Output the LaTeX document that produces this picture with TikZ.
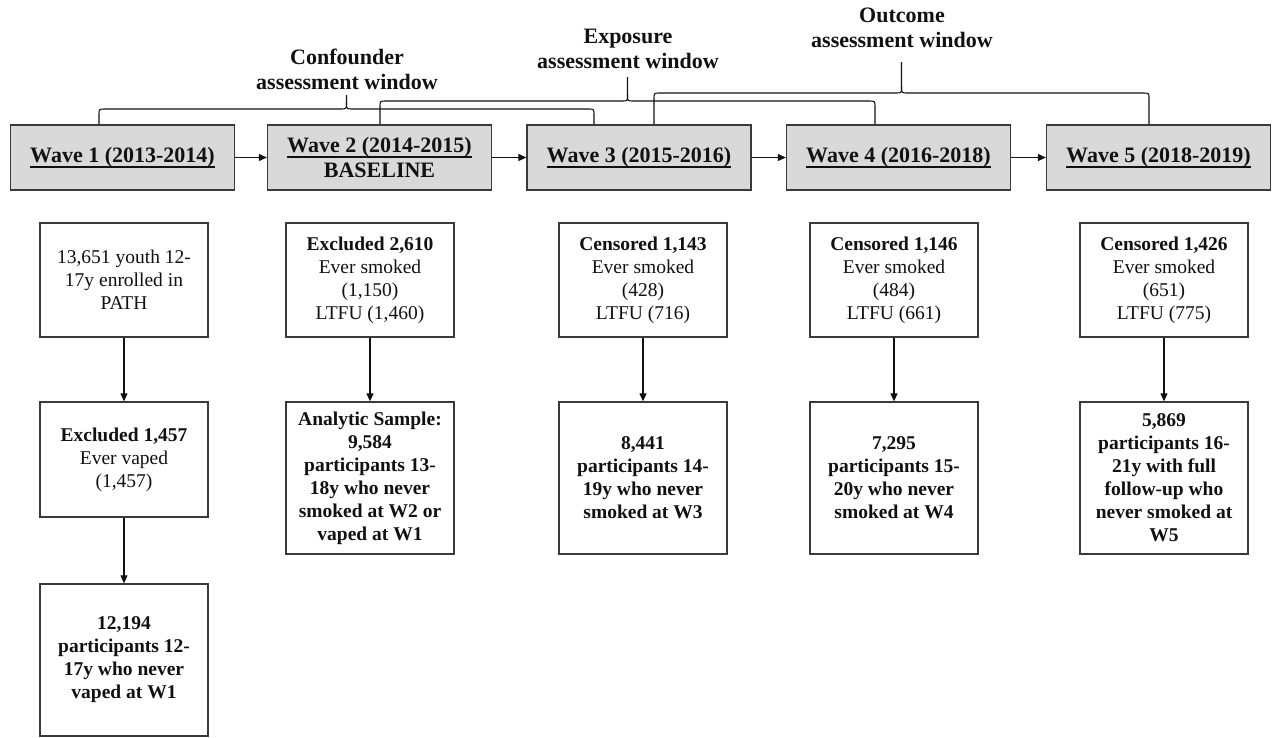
\documentclass[tikz,border=0pt]{standalone}
\usepackage{fontspec}
\setmainfont{Liberation Serif}
\usetikzlibrary{arrows.meta,calc}
\definecolor{ink}{HTML}{111111}
\definecolor{edge}{HTML}{3A3A3A}
\definecolor{wavebg}{HTML}{D9D9D9}
\newcommand{\waveul}[1]{\setbox0\hbox{#1}\rlap{\rule[-5pt]{\wd0}{1.8pt}}\box0}
% window brace: left wave, left foot x, right wave, right foot x, bar y, tip y
\newcommand{\winbrace}[6]{%
  \pgfmathsetmacro{\bmid}{(#2+#4)/2}
  \draw[brace] (#1.north -| #2,0) -- (#2,#5+6) .. controls (#2,#5) .. (#2+6,#5)
    -- (\bmid-6,#5) .. controls (\bmid,#5) .. (\bmid,#5-6) -- (\bmid,#6);
  \draw[brace] (#3.north -| #4,0) -- (#4,#5+6) .. controls (#4,#5) .. (#4-6,#5)
    -- (\bmid+6,#5) .. controls (\bmid,#5) .. (\bmid,#5-6);}

\begin{document}
\begin{tikzpicture}[x=1pt,y=-1pt,text=ink,
  wave/.style={draw=edge,fill=wavebg,line width=1.3pt,minimum width=224,
    minimum height=65,inner sep=0pt,align=center,
    font=\bfseries\fontsize{22}{25}\selectfont},
  box/.style={draw=edge,fill=white,line width=1.3pt,minimum width=168,
    inner sep=0pt,align=center,font=\fontsize{19.5}{23}\selectfont},
  sample/.style={box,font=\bfseries\fontsize{19.5}{23}\selectfont},
  lab/.style={align=center,font=\bfseries\fontsize{22}{25}\selectfont},
  flow/.style={-{Triangle[length=8pt,width=7pt]},line width=1.1pt,draw=ink},
  brace/.style={line width=1.1pt,draw=ink}]
\useasboundingbox (0,0) rectangle (1277,737);

% waves along the top, joined left to right
\node[wave] (w1) at (122.5,157.5) {\waveul{Wave 1 (2013-2014)}};
\node[wave] (w2) at (379.5,157.5) {\waveul{Wave 2 (2014-2015)}\\BASELINE};
\node[wave] (w3) at (639,157.5) {\waveul{Wave 3 (2015-2016)}};
\node[wave] (w4) at (898.5,157.5) {\waveul{Wave 4 (2016-2018)}};
\node[wave] (w5) at (1158.5,157.5) {\waveul{Wave 5 (2018-2019)}};
\draw[flow] (w1.east)--(w2.west);
\draw[flow] (w2.east)--(w3.west);
\draw[flow] (w3.east)--(w4.west);
\draw[flow] (w4.east)--(w5.west);

% assessment windows
\node[lab] (conf) at (347,69) {Confounder\\assessment window};
\node[lab] (expo) at (628,49) {Exposure\\assessment window};
\node[lab] (outc) at (902,28) {Outcome\\assessment window};
\winbrace{w1}{99}{w3}{594}{109}{95}
\winbrace{w2}{380}{w4}{875}{101}{77}
\winbrace{w3}{654}{w5}{1149}{93}{62}

% exclusions and censoring per wave
\node[box,minimum height=114] (n1) at (124,280)
  {13,651 youth 12-\\17y enrolled in\\PATH};
\node[box,minimum height=115] (x1) at (124,459.5)
  {\textbf{Excluded 1,457}\\Ever vaped\\(1,457)};
\node[sample,minimum height=152] (s1) at (124,660)
  {12,194\\participants 12-\\17y who never\\vaped at W1};
\draw[flow] (n1.south)--(x1.north);
\draw[flow] (x1.south)--(s1.north);

\node[box,minimum height=114] (x2) at (370,280)
  {\textbf{Excluded 2,610}\\Ever smoked\\(1,150)\\LTFU (1,460)};
\node[sample,minimum height=152] (s2) at (370,478)
  {Analytic Sample:\\9,584\\participants 13-\\18y who never\\smoked at W2 or\\vaped at W1};
\draw[flow] (x2.south)--(s2.north);

\node[box,minimum height=114] (x3) at (643,280)
  {\textbf{Censored 1,143}\\Ever smoked\\(428)\\LTFU (716)};
\node[sample,minimum height=152] (s3) at (643,478)
  {8,441\\participants 14-\\19y who never\\smoked at W3};
\draw[flow] (x3.south)--(s3.north);

\node[box,minimum height=114] (x4) at (894,280)
  {\textbf{Censored 1,146}\\Ever smoked\\(484)\\LTFU (661)};
\node[sample,minimum height=152] (s4) at (894,478)
  {7,295\\participants 15-\\20y who never\\smoked at W4};
\draw[flow] (x4.south)--(s4.north);

\node[box,minimum height=114] (x5) at (1164,280)
  {\textbf{Censored 1,426}\\Ever smoked\\(651)\\LTFU (775)};
\node[sample,minimum height=152] (s5) at (1164,478)
  {5,869\\participants 16-\\21y with full\\follow-up who\\never smoked at\\W5};
\draw[flow] (x5.south)--(s5.north);
\end{tikzpicture}
\end{document}
